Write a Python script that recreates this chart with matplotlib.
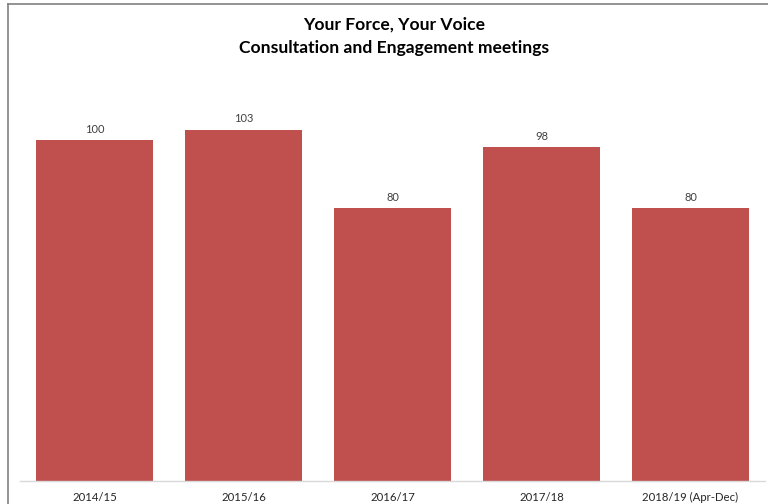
import matplotlib
matplotlib.use('Agg')
import matplotlib.pyplot as plt
from matplotlib.lines import Line2D

years = ['2014/15', '2015/16', '2016/17', '2017/18', '2018/19 (Apr-Dec)']
meetings = [100, 103, 80, 98, 80]

plt.rcParams['font.family'] = ['Lato', 'DejaVu Sans']

fig = plt.figure(figsize=(7.68, 5.04), dpi=100)
W, H = 768, 504
ax = fig.add_axes([20 / W, 1 - 481 / H, 745 / W, 409 / H])

bars = ax.bar(range(len(years)), meetings, width=0.79, color='#C0504D')
ax.set_xlim(-0.5, len(years) - 0.5)
ax.set_ylim(0, 120)

for b, v in zip(bars, meetings):
    ax.text(b.get_x() + b.get_width() / 2, v + 1.6, str(v),
            ha='center', va='bottom', fontsize=8, color='#404040')

ax.set_xticks(range(len(years)))
ax.set_xticklabels(years, fontsize=8.2, color='#262626')
ax.tick_params(axis='x', length=0, pad=8)
ax.set_yticks([])
for s in ['top', 'right', 'left']:
    ax.spines[s].set_visible(False)
ax.spines['bottom'].set_color('#D9D9D9')
ax.spines['bottom'].set_linewidth(1)

fig.text(394 / W, 1 - 25 / H, 'Your Force, Your Voice', ha='center', va='center',
         fontsize=12.6, fontweight='bold', color='black')
fig.text(394 / W, 1 - 48 / H, 'Consultation and Engagement meetings', ha='center', va='center',
         fontsize=12.6, fontweight='bold', color='black')

# chart frame, top and left edges only
fig.add_artist(Line2D([8 / W, 8 / W], [0, 1 - 4 / H], transform=fig.transFigure,
                      color='#808080', lw=1.2))
fig.add_artist(Line2D([8 / W, 1], [1 - 4 / H, 1 - 4 / H], transform=fig.transFigure,
                      color='#808080', lw=1.2))

fig.savefig('out.png', dpi=100)
